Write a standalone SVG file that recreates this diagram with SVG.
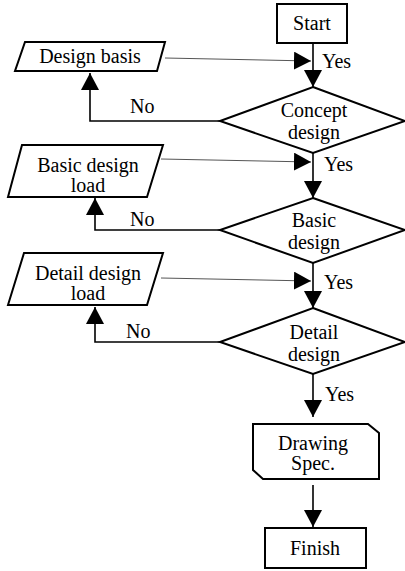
<svg xmlns="http://www.w3.org/2000/svg" width="405" height="571" viewBox="0 0 405 571">
<defs>
<marker id="a" markerUnits="userSpaceOnUse" markerWidth="18" markerHeight="18" viewBox="0 0 18 18" refX="17" refY="9" orient="auto">
<path d="M0,0 L17,9 L0,18 Z" fill="#000"/>
</marker>
</defs>
<g id="connectors" fill="none" stroke="#000" stroke-width="1.6">
<path d="M313,43 V87" marker-end="url(#a)"/>
<path d="M165,58 L311,61" stroke="#555" stroke-width="1" marker-end="url(#a)"/>
<path d="M220,121 H90 V73" marker-end="url(#a)"/>
<path d="M313,153 V198" marker-end="url(#a)"/>
<path d="M161,159 L311,162" stroke="#555" stroke-width="1" marker-end="url(#a)"/>
<path d="M220,230 H95 V198" marker-end="url(#a)"/>
<path d="M313,263 V308" marker-end="url(#a)"/>
<path d="M161,278 L311,281" stroke="#555" stroke-width="1" marker-end="url(#a)"/>
<path d="M220,342 H95 V307" marker-end="url(#a)"/>
<path d="M313,374 V417" marker-end="url(#a)"/>
<path d="M313,485 V527" marker-end="url(#a)"/>
</g>
<g id="labels" font-family="Liberation Serif" font-size="20" fill="#000">
<text x="322" y="68">Yes</text>
<text x="130" y="113">No</text>
<text x="324" y="171">Yes</text>
<text x="130" y="226">No</text>
<text x="324" y="289">Yes</text>
<text x="126" y="338">No</text>
<text x="325" y="401">Yes</text>
</g>
<g id="start" font-family="Liberation Serif" font-size="20" text-anchor="middle">
<rect x="277" y="4" width="70" height="39" fill="#fff" stroke="#000" stroke-width="2"/>
<text x="312" y="30">Start</text>
</g>
<g id="design-basis" font-family="Liberation Serif" font-size="20" text-anchor="middle">
<path d="M25,42 H165 L157,71 H15 Z" fill="#fff" stroke="#000" stroke-width="2"/>
<text x="90" y="63">Design basis</text>
</g>
<g id="concept-design" font-family="Liberation Serif" font-size="20" text-anchor="middle">
<path d="M313,87 L405,121 L313,153 L220,121 Z" fill="#fff" stroke="#000" stroke-width="2"/>
<text x="314" y="117">Concept</text>
<text x="314" y="139">design</text>
</g>
<g id="basic-design-load" font-family="Liberation Serif" font-size="20" text-anchor="middle">
<path d="M22,145 H163 L147,197 H8 Z" fill="#fff" stroke="#000" stroke-width="2"/>
<text x="88" y="172">Basic design</text>
<text x="88" y="192">load</text>
</g>
<g id="basic-design" font-family="Liberation Serif" font-size="20" text-anchor="middle">
<path d="M313,198 L405,230 L313,263 L220,230 Z" fill="#fff" stroke="#000" stroke-width="2"/>
<text x="314" y="227">Basic</text>
<text x="314" y="249">design</text>
</g>
<g id="detail-design-load" font-family="Liberation Serif" font-size="20" text-anchor="middle">
<path d="M24,253 H163 L147,305 H8 Z" fill="#fff" stroke="#000" stroke-width="2"/>
<text x="88" y="280">Detail design</text>
<text x="88" y="300">load</text>
</g>
<g id="detail-design" font-family="Liberation Serif" font-size="20" text-anchor="middle">
<path d="M313,308 L405,342 L313,374 L220,342 Z" fill="#fff" stroke="#000" stroke-width="2"/>
<text x="314" y="339">Detail</text>
<text x="314" y="361">design</text>
</g>
<g id="drawing-spec" font-family="Liberation Serif" font-size="20" text-anchor="middle">
<path d="M253,424 H368 L379,433 V479 H263 L253,470 Z" fill="#fff" stroke="#000" stroke-width="2"/>
<text x="313" y="450">Drawing</text>
<text x="313" y="470">Spec.</text>
</g>
<g id="finish" font-family="Liberation Serif" font-size="20" text-anchor="middle">
<rect x="265" y="528" width="101" height="40" fill="#fff" stroke="#000" stroke-width="2"/>
<text x="315" y="555">Finish</text>
</g>
</svg>
